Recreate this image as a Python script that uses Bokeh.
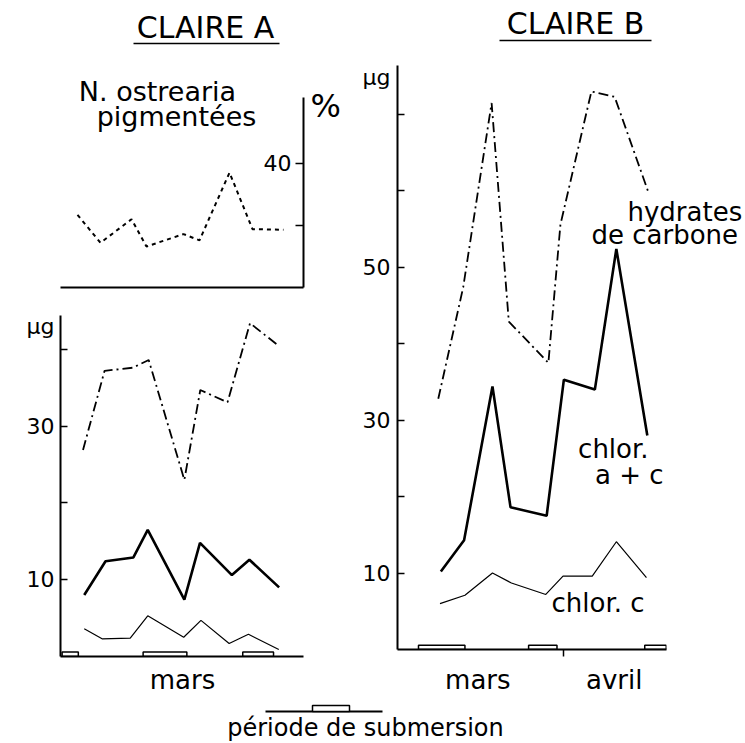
from bokeh.plotting import figure
from bokeh.models import Range1d, FixedTicker, Label, LinearAxis
from bokeh.layouts import row, column
from bokeh.embed import file_html
from bokeh.resources import INLINE

FONT = "DejaVu Sans"
BASE_FIX = 0.35   # empirical shift of the rendered alphabetic baseline (in em)

# ---------------- data (days, values) ----------------
# CLAIRE A  (x = jour de mars)
A_days_nost = [3.28, 5.94, 9.54, 11.27, 15.56, 17.41, 20.89, 23.55, 27.14]
A_nost = [31.7, 27.2, 31.0, 26.6, 28.6, 27.6, 38.5, 29.4, 29.3]          # %
A_days_hyd = [3.28, 5.94, 9.42, 11.39, 15.79, 17.76, 21.12, 23.9, 27.49]
A_hyd = [26.9, 37.2, 37.6, 38.6, 23.0, 34.7, 33.1, 43.4, 40.4]           # µg
A_days_chac = [3.43, 6.06, 9.5, 11.27, 15.79, 17.72, 21.66, 23.82, 27.49]
A_chac = [8.0, 12.4, 12.9, 16.5, 7.4, 14.8, 10.6, 12.6, 9.0]
A_days_chc = [3.43, 5.63, 9.11, 11.27, 15.71, 17.84, 21.32, 23.7, 27.45]
A_chc = [3.6, 2.3, 2.4, 5.3, 2.5, 4.7, 1.7, 2.9, 0.9]
A_sub_start = [0.7, 10.7, 23.0]
A_sub_end = [2.7, 16.1, 26.8]

# CLAIRE B  (x = jour depuis le 1er mars ; 1er avril = 32)
B_days_hyd = [16.9, 19.8, 23.1, 25.1, 29.7, 31.1, 34.7, 37.4, 41.3]
B_hyd = [32.8, 47.4, 71.5, 42.9, 37.5, 55.6, 73.0, 72.3, 59.9]
B_days_chac = [17.2, 19.9, 23.2, 25.3, 29.5, 31.5, 35.1, 37.6, 41.2]
B_chac = [10.2, 14.3, 34.4, 18.6, 17.5, 35.3, 34.0, 52.4, 28.0]
B_days_chc = [17.1, 20.0, 23.2, 25.4, 29.4, 31.4, 34.8, 37.6, 41.1]
B_chc = [6.0, 7.1, 10.0, 8.7, 7.2, 9.6, 9.6, 14.1, 9.4]
B_sub_start = [14.6, 27.4, 40.9]
B_sub_end = [20.0, 30.7, 43.4]
B_month_break = [31.5]

# ticks and tick labels
A_pct_ticks = [30, 40]
A_ug_ticks = [10, 20, 30, 40]
A_ug_labels = {10: "10", 30: "30", 42.97: "µg"}
A_month_labels = {15.56: "mars"}
B_ug_ticks = [10, 20, 30, 40, 50, 60, 70]
B_ug_labels = {10: "10", 30: "30", 50: "50", 74.8: "µg"}
B_month_labels = {21.5: "mars", 37.35: "avril"}

# ---------------- geometry (page pixels of each frame) ----------------
gLT = dict(fl=60, ft=97, fw=243, fh=190, x0=1.31, x1=29.46, y0=20, y1=50.6)
gLB = dict(fl=53, ft=315, fw=259, fh=344, x0=0.5, x1=30.5, y0=0, y1=44.4)
gB = dict(fl=397, ft=65, fw=270, fh=592, x0=12.16, x1=43.43, y0=0, y1=76.4)


def conv(g, px, py):
    x = g["x0"] + (px - g["fl"]) / g["fw"] * (g["x1"] - g["x0"])
    y = g["y1"] - (py - g["ft"]) / g["fh"] * (g["y1"] - g["y0"])
    return x, y


def make_fig(w, h, g, left, right, top, bottom, yloc="left"):
    p = figure(width=w, height=h, x_range=Range1d(g["x0"], g["x1"]),
               y_range=Range1d(g["y0"], g["y1"]), output_backend="svg",
               toolbar_location=None, y_axis_location=yloc,
               min_border_left=left, min_border_right=right,
               min_border_top=top, min_border_bottom=bottom)
    p.grid.visible = False
    p.outline_line_color = None
    p.background_fill_color = "white"
    p.border_fill_color = "white"
    return p


def style_axis(ax, labels, minor=(), minor_in=0, minor_out=0, size="22px",
               standoff=6, line=True):
    ax.ticker = FixedTicker(ticks=list(labels.keys()), minor_ticks=list(minor))
    ax.major_label_overrides = dict(labels)
    ax.axis_line_width = 2
    ax.axis_line_color = "black" if line else None
    ax.major_tick_in = 0
    ax.major_tick_out = 0
    ax.major_tick_line_color = None
    ax.minor_tick_in = minor_in
    ax.minor_tick_out = minor_out
    ax.minor_tick_line_width = 1.5
    ax.minor_tick_line_color = "black" if len(minor) else None
    ax.major_label_text_font = FONT
    ax.major_label_text_font_size = size
    ax.major_label_text_color = "black"
    ax.major_label_standoff = standoff


def add_text(p, g, px, py, text, size, align="left"):
    x, y = conv(g, px, py - BASE_FIX * size)
    p.add_layout(Label(x=x, y=y, text=text, text_font=FONT,
                       text_font_size=f"{size}px", text_align=align,
                       text_baseline="alphabetic", text_color="black"))


HYD_DASH = "10 4 2 4"

# ---------------- title strip ----------------
strip = figure(width=745, height=48, x_range=Range1d(0, 745), y_range=Range1d(48, 0),
               output_backend="svg", toolbar_location=None,
               x_axis_location=None, y_axis_location=None,
               min_border_left=0, min_border_right=0, min_border_top=0, min_border_bottom=0)
strip.grid.visible = False
strip.outline_line_color = None
strip.segment(x0=[133, 499], y0=[43, 40], x1=[279, 651], y1=[43, 40],
              line_color="black", line_width=1.5)
for tx, ty, tt in [(205, 37, "CLAIRE A"), (575, 33, "CLAIRE B")]:
    strip.add_layout(Label(x=tx, y=ty - BASE_FIX * 30, text=tt, text_font=FONT,
                           text_font_size="30px", text_align="center",
                           text_baseline="alphabetic", text_color="black"))

# ---------------- Claire A, top (% N. ostrearia) ----------------
lt = make_fig(345, 252, gLT, 60, 42, 49, 13, yloc="right")
style_axis(lt.yaxis[0], {49.2: "%"}, minor=A_pct_ticks, minor_in=8, size="32px", standoff=7)
style_axis(lt.xaxis[0], {})
top_ax = LinearAxis()
lt.add_layout(top_ax, "above")
style_axis(top_ax, {conv(gLT, 157, 0)[0]: "N. ostrearia"}, size="27px", standoff=-9, line=False)
lt.line(A_days_nost, A_nost, line_color="black", line_width=2, line_dash="4 4")
add_text(lt, gLT, 176, 125, "pigmentées", 27, "center")
add_text(lt, gLT, 291, 170, "40", 22, "right")

# ---------------- Claire A, bottom (µg) ----------------
lb = make_fig(345, 397, gLB, 53, 33, 15, 38)
style_axis(lb.yaxis[0], A_ug_labels, minor=A_ug_ticks, minor_in=7, standoff=6)
style_axis(lb.xaxis[0], A_month_labels, size="26px", standoff=8)
lb.quad(left=A_sub_start, right=A_sub_end, bottom=0, top=0.6,
        fill_color="white", line_color="black", line_width=1.5)
lb.line(A_days_hyd, A_hyd, line_color="black", line_width=1.8, line_dash=HYD_DASH)
lb.line(A_days_chac, A_chac, line_color="black", line_width=2.6)
lb.line(A_days_chc, A_chc, line_color="black", line_width=1.2)

# ---------------- Claire B ----------------
fb = make_fig(400, 649, gB, 52, 78, 17, 40)
style_axis(fb.yaxis[0], B_ug_labels, minor=B_ug_ticks, minor_in=7, standoff=7)
style_axis(fb.xaxis[0], B_month_labels, minor=B_month_break, minor_out=7,
           size="26px", standoff=8)
r1 = LinearAxis()
fb.add_layout(r1, "right")
style_axis(r1, {54.2: "de carbone"}, size="26px", standoff=-75, line=False)
r2 = LinearAxis()
fb.add_layout(r2, "right")
style_axis(r2, {57.3: "hydrates"}, size="26px", standoff=-114, line=False)
fb.quad(left=B_sub_start, right=B_sub_end, bottom=0, top=0.55,
        fill_color="white", line_color="black", line_width=1.5)
fb.line(B_days_hyd, B_hyd, line_color="black", line_width=1.8, line_dash=HYD_DASH)
fb.line(B_days_chac, B_chac, line_color="black", line_width=2.6)
fb.line(B_days_chc, B_chc, line_color="black", line_width=1.2)
add_text(fb, gB, 649, 463, "chlor.", 26, "right")
add_text(fb, gB, 664, 489, "a + c", 26, "right")
add_text(fb, gB, 645, 619, "chlor. c", 26, "right")

# ---------------- legend strip ----------------
leg = figure(width=745, height=46, x_range=Range1d(0, 745), y_range=Range1d(46, 0),
             output_backend="svg", toolbar_location=None,
             x_axis_location=None, y_axis_location=None,
             min_border_left=0, min_border_right=0, min_border_top=0, min_border_bottom=0)
leg.grid.visible = False
leg.outline_line_color = None
leg.segment(x0=[265], y0=[14], x1=[382], y1=[14], line_color="black", line_width=2)
leg.quad(left=[312], right=[349], top=[8], bottom=[14], fill_color="white",
         line_color="black", line_width=1.5)
leg.add_layout(Label(x=365, y=39 - BASE_FIX * 24, text="période de submersion",
                     text_font=FONT, text_font_size="24px", text_align="center",
                     text_baseline="alphabetic", text_color="black"))

layout = column(strip, row(column(lt, lb), fb), leg)
open("out.html", "w").write(file_html(layout, INLINE))
